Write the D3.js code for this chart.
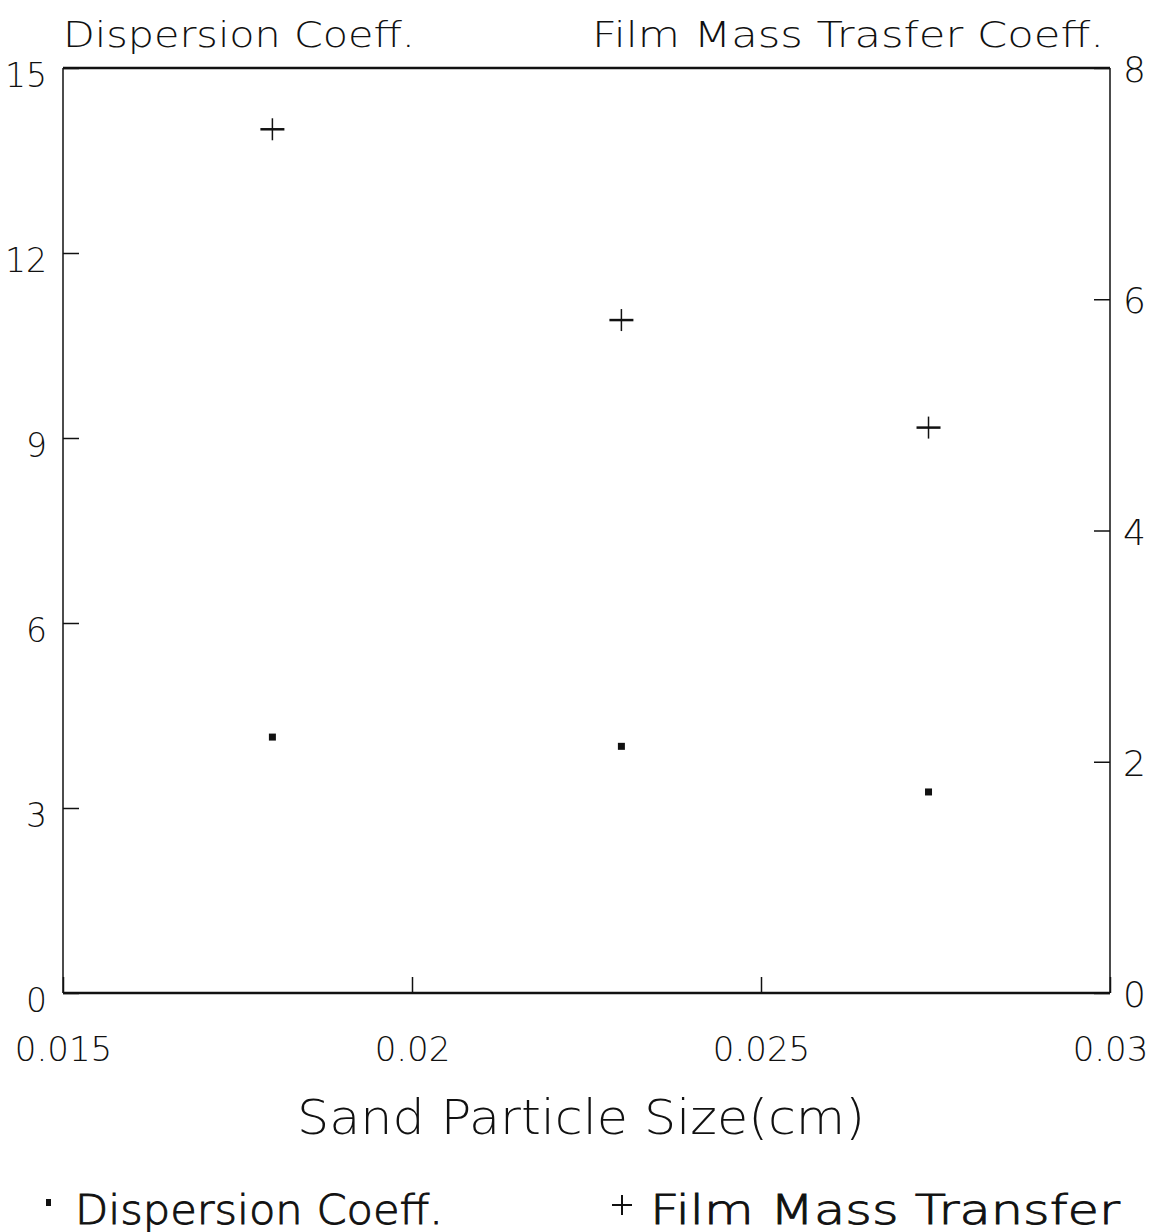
<!DOCTYPE html>
<html>
<head>
<meta charset="utf-8">
<script src="https://cdn.jsdelivr.net/npm/d3@7"></script>
<style>
  html, body { margin: 0; padding: 0; background: #fff; }
  svg { display: block; }
  text { font-family: "DejaVu Sans", "Liberation Sans", sans-serif; fill: #111; }
</style>
</head>
<body>
<svg id="chart" width="1153" height="1232"></svg>
<script>
// Sand particle size (cm)
const particleSize = [0.018, 0.023, 0.0274];
// Dispersion coefficient (left axis)
const dispersionCoeff = [4.15, 4.0, 3.26];
// Film mass transfer coefficient (right axis)
const filmMassTransfer = [7.47, 5.82, 4.89];

const xTicks = [0.015, 0.02, 0.025, 0.03];
const xTickLabels = ["0.015", "0.02", "0.025", "0.03"];
const leftTicks = [0, 3, 6, 9, 12, 15];
const rightTicks = [0, 2, 4, 6, 8];

const svg = d3.select("#chart");
const m = { left: 63, right: 1110, top: 68, bottom: 993 };
const ink = "#111";
const thin = 200;

const x = d3.scaleLinear().domain([0.015, 0.03]).range([m.left, m.right]);
const yL = d3.scaleLinear().domain([0, 15]).range([m.bottom, m.top]);
const yR = d3.scaleLinear().domain([0, 8]).range([m.bottom, m.top]);

// Frame
svg.append("line").attr("x1", m.left).attr("x2", m.right).attr("y1", m.top).attr("y2", m.top)
  .attr("stroke", ink).attr("stroke-width", 2.5);
svg.append("line").attr("x1", m.left).attr("x2", m.right).attr("y1", m.bottom).attr("y2", m.bottom)
  .attr("stroke", ink).attr("stroke-width", 2.5);
svg.append("line").attr("x1", m.left).attr("x2", m.left).attr("y1", m.top).attr("y2", m.bottom)
  .attr("stroke", ink).attr("stroke-width", 1.5);
svg.append("line").attr("x1", m.right).attr("x2", m.right).attr("y1", m.top).attr("y2", m.bottom)
  .attr("stroke", ink).attr("stroke-width", 1.5);

// Bottom axis (ticks point inward)
const xAxis = svg.append("g").attr("transform", `translate(0,${m.bottom})`)
  .call(d3.axisBottom(x).tickValues(xTicks).tickSize(-16).tickSizeOuter(0)
    .tickFormat((d, i) => xTickLabels[i]).tickPadding(44));
xAxis.select(".domain").remove();
xAxis.selectAll(".tick line").attr("stroke", ink).attr("stroke-width", 1.5);
xAxis.selectAll(".tick text").attr("font-size", 34).attr("font-weight", thin).attr("fill", ink);

// Left axis
const lAxis = svg.append("g").attr("transform", `translate(${m.left},0)`)
  .call(d3.axisLeft(yL).tickValues(leftTicks).tickSize(-16).tickSizeOuter(0).tickPadding(16));
lAxis.select(".domain").remove();
lAxis.selectAll(".tick line").attr("stroke", ink).attr("stroke-width", 1.5);
lAxis.selectAll(".tick text").attr("font-size", 33).attr("font-weight", thin).attr("fill", ink)
  .attr("dy", "0.55em");

// Right axis
const rAxis = svg.append("g").attr("transform", `translate(${m.right},0)`)
  .call(d3.axisRight(yR).tickValues(rightTicks).tickSize(-16).tickSizeOuter(0).tickPadding(13));
rAxis.select(".domain").remove();
rAxis.selectAll(".tick line").attr("stroke", ink).attr("stroke-width", 1.5);
rAxis.selectAll(".tick text").attr("font-size", 36).attr("font-weight", thin).attr("fill", ink)
  .attr("dy", "0.38em");

// Axis titles
svg.append("text").attr("x", m.left).attr("y", 47).attr("font-size", 36).attr("font-weight", thin)
  .attr("textLength", 352).attr("lengthAdjust", "spacingAndGlyphs").text("Dispersion Coeff.");
svg.append("text").attr("x", 1104).attr("y", 47).attr("font-size", 36).attr("font-weight", thin)
  .attr("text-anchor", "end").attr("textLength", 512).attr("lengthAdjust", "spacingAndGlyphs")
  .text("Film Mass Trasfer Coeff.");
svg.append("text").attr("x", 297).attr("y", 1134).attr("font-size", 48).attr("font-weight", thin)
  .attr("textLength", 568).attr("lengthAdjust", "spacingAndGlyphs").text("Sand Particle Size(cm)");

// Dispersion coefficient markers: small filled squares
svg.append("g").selectAll("rect").data(particleSize).join("rect")
  .attr("x", (d) => x(d) - 3.5)
  .attr("y", (d, i) => yL(dispersionCoeff[i]) - 3.5)
  .attr("width", 7).attr("height", 7).attr("fill", ink);

// Film mass transfer markers: plus signs
const plus = svg.append("g").selectAll("g").data(particleSize).join("g")
  .attr("transform", (d, i) => `translate(${x(d)},${yR(filmMassTransfer[i])})`);
plus.append("line").attr("x1", -12).attr("x2", 12).attr("y1", 0).attr("y2", 0)
  .attr("stroke", ink).attr("stroke-width", 2.5);
plus.append("line").attr("x1", 0).attr("x2", 0).attr("y1", -11).attr("y2", 11)
  .attr("stroke", ink).attr("stroke-width", 1.5);

// Legend
const legend = svg.append("g");
legend.append("rect").attr("x", 46).attr("y", 1199).attr("width", 5).attr("height", 7).attr("fill", ink);
legend.append("text").attr("x", 75).attr("y", 1224).attr("font-size", 40).attr("font-weight", thin)
  .attr("stroke", ink).attr("stroke-width", 0.9)
  .attr("textLength", 368).attr("lengthAdjust", "spacingAndGlyphs").text("Dispersion Coeff.");
legend.append("line").attr("x1", 612).attr("x2", 632).attr("y1", 1205).attr("y2", 1205)
  .attr("stroke", ink).attr("stroke-width", 2);
legend.append("line").attr("x1", 622).attr("x2", 622).attr("y1", 1195).attr("y2", 1215)
  .attr("stroke", ink).attr("stroke-width", 2);
legend.append("text").attr("x", 650).attr("y", 1224).attr("font-size", 40).attr("font-weight", thin)
  .attr("stroke", ink).attr("stroke-width", 0.9)
  .attr("textLength", 470).attr("lengthAdjust", "spacingAndGlyphs").text("Film Mass Transfer");
</script>
</body>
</html>
